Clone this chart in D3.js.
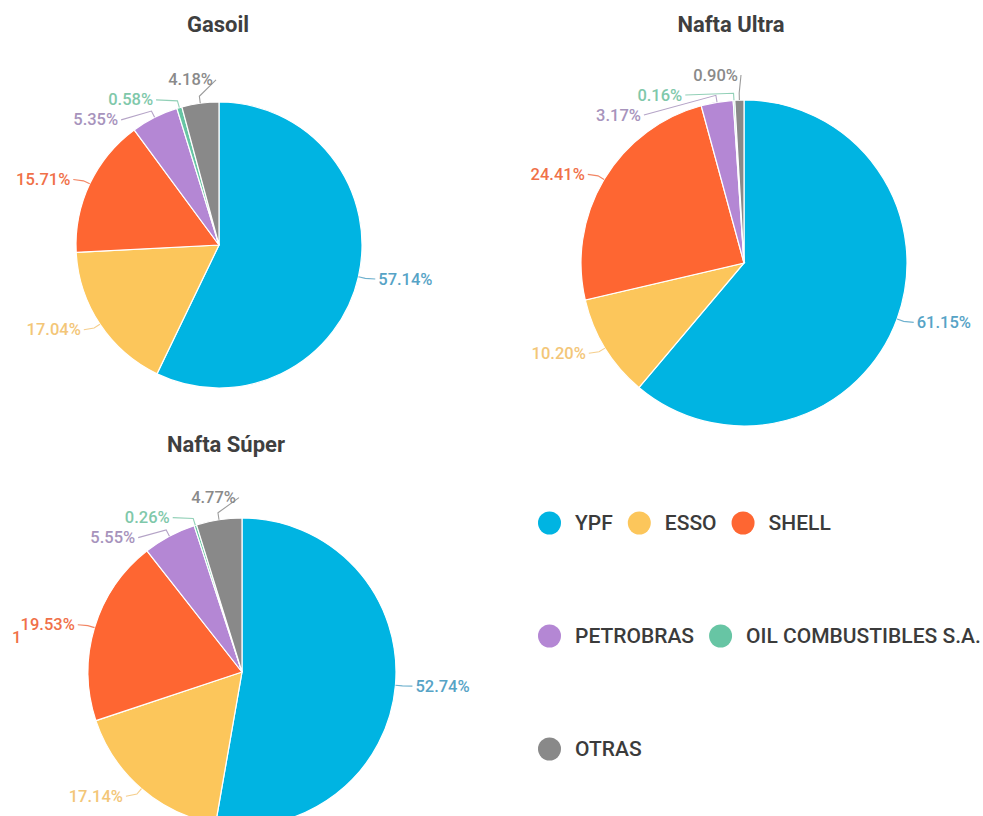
<!DOCTYPE html>
<html>
<head>
<meta charset="utf-8">
<script src="https://cdn.jsdelivr.net/npm/d3@7"></script>
<style>
  html, body { margin: 0; padding: 0; background: #ffffff; }
  svg { display: block; font-family: Roboto, "Noto Sans", sans-serif; }
</style>
</head>
<body>
<svg id="chart" width="983" height="816"></svg>
<script>
// ---- DATA ----
const categories = ["YPF", "ESSO", "SHELL", "PETROBRAS", "OIL COMBUSTIBLES S.A.", "OTRAS"];
const chartTitles = ["Gasoil", "Nafta Ultra", "Nafta Súper"];
const gasoilValues = [57.14, 17.04, 15.71, 5.35, 0.58, 4.18];
const naftaUltraValues = [61.15, 10.20, 24.41, 3.17, 0.16, 0.90];
const naftaSuperValues = [52.74, 17.14, 19.53, 5.55, 0.26, 4.77];
const strayTexts = ["1"];

// ---- STYLE / LAYOUT ----
const sliceColors = ["#00b4e2", "#fcc65b", "#fe6632", "#b487d4", "#67c5a4", "#898989"];
const labelColors = ["#56a3c6", "#f3c678", "#f07048", "#a793bc", "#7fc8aa", "#8a8a8a"];
const layout = [
  { cx: 219, cy: 245, r: 143, titleX: 218, titleY: 24 },
  { cx: 744, cy: 263, r: 163, titleX: 731, titleY: 24 },
  { cx: 242, cy: 672, r: 154, titleX: 226, titleY: 444 }
];
const seriesList = [gasoilValues, naftaUltraValues, naftaSuperValues];

const svg = d3.select("#chart");
const color = d3.scaleOrdinal().domain(categories).range(sliceColors);
const lcolor = d3.scaleOrdinal().domain(categories).range(labelColors);
const pie = d3.pie().sort(null).value(d => d.value);
const LABEL_GAP = 20;

seriesList.forEach((values, ci) => {
  const L = layout[ci];
  const g = svg.append("g");
  const data = categories.map((c, i) => ({ cat: c, value: values[i] }));
  const arcs = pie(data);
  const arc = d3.arc().innerRadius(0).outerRadius(L.r);

  g.append("text")
    .attr("x", L.titleX).attr("y", L.titleY)
    .attr("text-anchor", "middle").attr("dominant-baseline", "central")
    .attr("font-size", 22).attr("font-weight", 700).attr("fill", "#3f3f3f")
    .text(chartTitles[ci]);

  const pg = g.append("g").attr("transform", `translate(${L.cx},${L.cy})`);
  pg.selectAll("path").data(arcs).enter().append("path")
    .attr("d", arc)
    .attr("fill", d => color(d.data.cat))
    .attr("stroke", "#ffffff").attr("stroke-width", 1.2);

  // label placement
  const Ry = L.r + 10, Rx = L.r + 14;
  const labels = arcs.map(a => {
    const mid = (a.startAngle + a.endAngle) / 2;
    return {
      a, mid, cat: a.data.cat, value: a.data.value,
      side: mid < Math.PI ? 1 : -1,
      ny: -Ry * Math.cos(mid)
    };
  });
  const minY = -L.r - 25;
  [1, -1].forEach(side => {
    const items = labels.filter(l => l.side === side).sort((p, q) => p.ny - q.ny);
    let groups = items.map(it => ({ items: [it] }));
    const place = grp => {
      const mean = d3.mean(grp.items, d => d.ny);
      grp.top = Math.max(minY, mean - (grp.items.length - 1) * LABEL_GAP / 2);
    };
    groups.forEach(place);
    let changed = true;
    while (changed) {
      changed = false;
      for (let i = 1; i < groups.length; i++) {
        const p = groups[i - 1], q = groups[i];
        if (p.top + p.items.length * LABEL_GAP > q.top) {
          p.items = p.items.concat(q.items);
          groups.splice(i, 1);
          place(p);
          changed = true;
          break;
        }
      }
    }
    groups.forEach(grp => grp.items.forEach((it, k) => { it.y = grp.top + k * LABEL_GAP; }));
  });
  labels.forEach(l => {
    const dx = Math.sqrt(Math.max(0, Rx * Rx - l.y * l.y));
    l.x = l.side * (dx + 4);
  });

  const lg = pg.append("g");
  labels.forEach(l => {
    const p0 = [L.r * Math.sin(l.mid), -L.r * Math.cos(l.mid)];
    const p1 = [(L.r + 7) * Math.sin(l.mid), -(L.r + 7) * Math.cos(l.mid)];
    const p2 = [l.x - l.side * 1, l.y];
    lg.append("path")
      .attr("d", d3.line()([p0, p1, p2]))
      .attr("fill", "none").attr("stroke", lcolor(l.cat))
      .attr("stroke-width", 1.1).attr("opacity", 0.85);
    lg.append("text")
      .attr("x", l.x + l.side * 2).attr("y", l.y)
      .attr("text-anchor", l.side > 0 ? "start" : "end")
      .attr("dominant-baseline", "central")
      .attr("font-size", 16.5).attr("font-weight", 500)
      .attr("fill", lcolor(l.cat))
      .text(l.value.toFixed(2) + "%");
  });
});

// stray text from the source image
svg.append("text")
  .attr("x", 12).attr("y", 637)
  .attr("dominant-baseline", "central")
  .attr("font-size", 16.5).attr("font-weight", 500)
  .attr("fill", labelColors[2])
  .text(strayTexts[0]);

// ---- LEGEND (flow layout) ----
const legend = svg.append("g");
const legLeft = 538, legRight = 982, rowStart = 523, rowStep = 113;
const circR = 11.5, textGap = 14, itemGap = 15;
let lx = legLeft, ly = rowStart;
categories.forEach(c => {
  const it = legend.append("g");
  const t = it.append("text")
    .attr("dominant-baseline", "central")
    .attr("font-size", 21).attr("font-weight", 500).attr("fill", "#3b3b3b")
    .text(c);
  const tw = t.node().getComputedTextLength();
  const w = circR * 2 + textGap + tw;
  if (lx > legLeft && lx + w > legRight) { lx = legLeft; ly += rowStep; }
  it.append("circle").attr("cx", lx + circR).attr("cy", ly).attr("r", circR)
    .attr("fill", color(c));
  t.attr("x", lx + circR * 2 + textGap).attr("y", ly);
  lx += w + itemGap;
});
</script>
</body>
</html>
